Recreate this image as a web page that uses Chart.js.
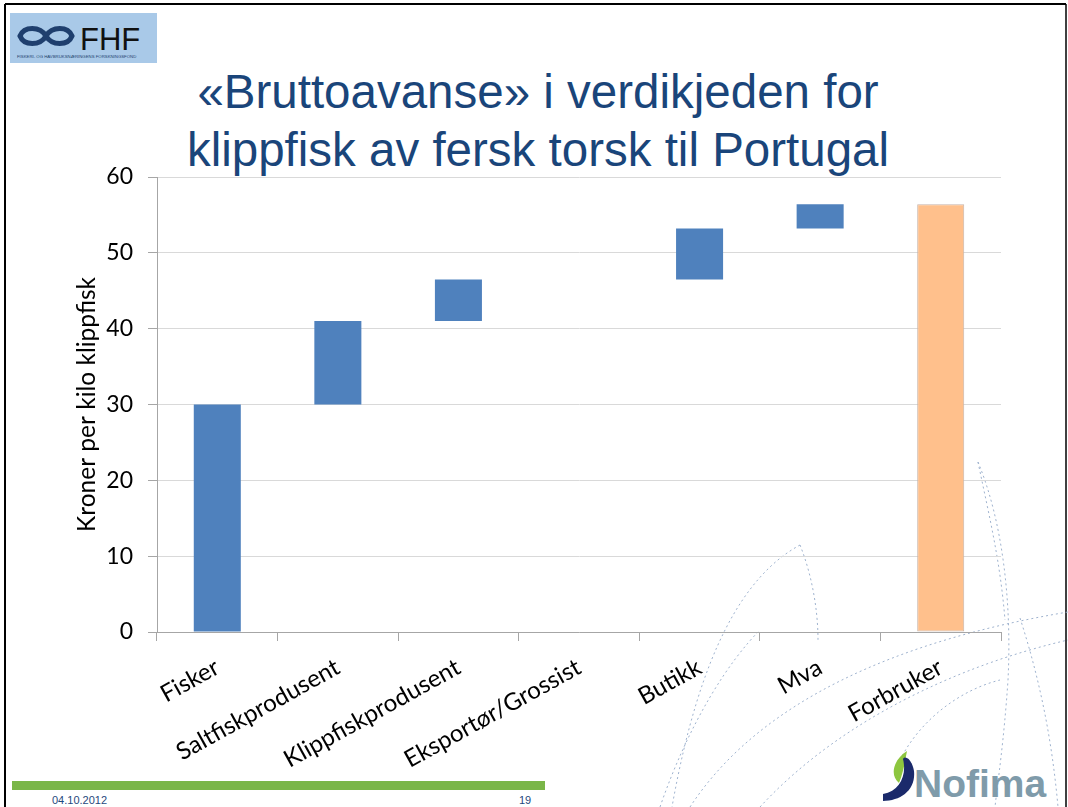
<!DOCTYPE html>
<html>
<head>
<meta charset="utf-8">
<script src="https://cdn.jsdelivr.net/npm/chart.js@4.4.1/dist/chart.umd.min.js"></script>
<style>
  html,body{margin:0;padding:0;background:#fff;}
  body{width:1068px;height:807px;position:relative;overflow:hidden;font-family:"Liberation Sans",Arial,sans-serif;}
  #deco{position:absolute;left:0;top:0;}
  #wrap{position:absolute;left:0;top:0;width:1068px;height:807px;}
  #title{position:absolute;left:0;width:1076px;top:63px;text-align:center;color:#1A457A;font-size:47.5px;line-height:58px;font-family:"Liberation Sans",Arial,sans-serif;white-space:nowrap;}
  .foot{position:absolute;top:794px;font-size:11px;color:#1F497D;font-family:"Liberation Sans",Arial,sans-serif;}
</style>
</head>
<body>
<svg id="deco" width="1068" height="807" xmlns="http://www.w3.org/2000/svg">
  <!-- frame -->
  <line x1="5" y1="4" x2="1066" y2="4" stroke="#000" stroke-width="2"/>
  <line x1="5" y1="4" x2="5" y2="807" stroke="#000" stroke-width="2"/>
  <line x1="1066" y1="4" x2="1066" y2="807" stroke="#000" stroke-width="1.5"/>
  <!-- FHF logo -->
  <rect x="10" y="13" width="147" height="50" fill="#A9C9E8"/>
  <g fill="none" stroke="#1F3F6E" stroke-width="5">
    <path d="M20 36 C24 26, 40 26, 46 36 C52 46, 68 46, 72 36 C68 26, 52 26, 46 36 C40 46, 24 46, 20 36 Z"/>
  </g>
  <text x="80" y="50" font-family="Liberation Sans, Arial" font-size="31" fill="#111">FHF</text>
  <text x="17" y="58" font-family="Liberation Sans, Arial" font-size="4.3" fill="#1F3F6E">FISKERI- OG HAVBRUKSNÆRINGENS FORSKNINGSFOND</text>
  <!-- decorative dotted curves -->
  <g fill="none" stroke="#9FB3CF" stroke-width="1" stroke-dasharray="2,3">
    <path d="M800 545 C812 575, 818 610, 818 640"/>
    <path d="M800 545 C745 575, 700 650, 672 807"/>
    <path d="M978 462 C1002 520, 1012 600, 1008 680 C1004 740, 998 780, 995 807"/>
    <path d="M978 462 C990 520, 1000 560, 1005 620"/>
    <path d="M690 807 C760 700, 900 640, 1068 612"/>
    <path d="M760 807 C840 720, 960 665, 1068 640"/>
    <path d="M1020 618 C1040 680, 1052 740, 1058 807"/>
    <path d="M660 807 C690 720, 730 660, 760 630"/>
    <path d="M900 760 C920 720, 960 690, 1000 680"/>
  </g>
  <!-- green bar -->
  <rect x="12" y="781" width="533" height="9" fill="#7AB648"/>
  <!-- Nofima logo -->
  <path d="M907 751 C894 759, 889 775, 899 783 C904 771, 905 760, 907 751 Z" fill="#8DC63F"/>
  <path d="M883 801 C901 801, 916 790, 914 771 C912 759, 905 755, 903 759 C907 775, 900 791, 883 794 Z" fill="#1B2A6B"/>
  <text x="914" y="797" font-family="Liberation Sans, Arial" font-weight="bold" font-size="39" fill="#7F9BAA">Nofima</text>
</svg>
<div id="title">«Bruttoavanse» i verdikjeden for<br>klippfisk av fersk torsk til Portugal</div>
<div class="foot" style="left:52px;">04.10.2012</div>
<div class="foot" style="left:519px;">19</div>
<div id="wrap"><canvas id="c" width="1068" height="807"></canvas></div>
<script>
const categories = ['Fisker','Saltfiskprodusent','Klippfiskprodusent','Eksportør/Grossist','Butikk','Mva','Forbruker'];
const barStart = [0, 30, 41, 46.5, 46.5, 53.2, 0];
const barEnd   = [30, 41, 46.5, 46.5, 53.2, 56.4, 56.4];
const barColors = ['#4F81BD','#4F81BD','#4F81BD','#4F81BD','#4F81BD','#4F81BD','#FFC08C'];
const barBorders = ['#4F81BD','#4F81BD','#4F81BD','#4F81BD','#4F81BD','#4F81BD','#C8B4A8'];
const barBorderWidths = [0,0,0,0,0,0,1];
const yMin = 0, yMax = 60, yStep = 10;
const yTitle = 'Kroner per kilo klippfisk';

const fontFam = 'Lato, "Open Sans", sans-serif';
new Chart(document.getElementById('c'), {
  type: 'bar',
  data: {
    labels: categories,
    datasets: [{
      data: categories.map((c, i) => [barStart[i], barEnd[i]]),
      backgroundColor: barColors,
      borderColor: barBorders,
      borderWidth: barBorderWidths,
      borderSkipped: false,
      categoryPercentage: 1.0,
      barPercentage: 0.39
    }]
  },
  options: {
    responsive: false,
    animation: false,
    layout: { padding: { left: 68, top: 177, right: 67, bottom: 0 } },
    plugins: { legend: { display: false }, tooltip: { enabled: false }, title: { display: false } },
    scales: {
      x: {
        grid: { display: true, drawOnChartArea: false, drawTicks: true, tickLength: 9, color: '#A6A6A6', offset: true },
        border: { display: true, color: '#A6A6A6', width: 1 },
        ticks: { color: '#000', font: { family: fontFam, size: 24 }, minRotation: 29, maxRotation: 29, padding: 12, autoSkip: false },
        afterFit: s => { s.height = 175; }
      },
      y: {
        min: yMin, max: yMax,
        grid: { color: '#D9D9D9', tickColor: '#A6A6A6', tickLength: 9, drawTicks: true },
        border: { display: true, color: '#A6A6A6', width: 1 },
        ticks: { stepSize: yStep, color: '#000', font: { family: fontFam, size: 23 }, padding: 15 },
        title: { display: true, text: yTitle, color: '#000', font: { family: fontFam, size: 24.5 }, padding: { top: 4, bottom: 4 } },
        afterFit: s => { s.width = 89; }
      }
    }
  }
});
</script>
</body>
</html>
